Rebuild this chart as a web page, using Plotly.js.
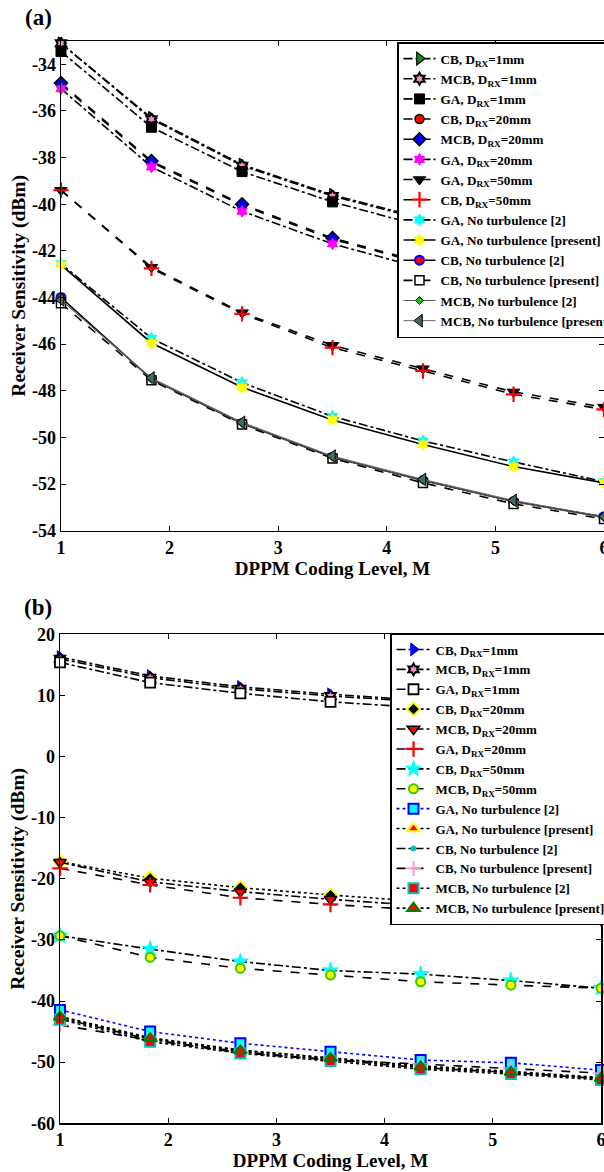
<!DOCTYPE html>
<html>
<head>
<meta charset="utf-8">
<script src="https://cdn.plot.ly/plotly-3.0.1.min.js"></script>
<style>html,body{margin:0;padding:0;background:#fff;}#chart{width:604px;height:1172px;}</style>
</head>
<body>
<div id="chart"></div>
<script>
// ---------- data ----------
const xM = [1, 1.833, 2.667, 3.5, 4.333, 5.167, 6];
const xTicks = [1, 2, 3, 4, 5, 6];
const yTicksA = [-54, -52, -50, -48, -46, -44, -42, -40, -38, -36, -34];
const yTicksB = [-60, -50, -40, -30, -20, -10, 0, 10, 20];

// panel (a)
const a_CB_1mm   = [-33.1, -36.3, -38.3, -39.6, -40.6, -41.4, -42.1];
const a_MCB_1mm  = [-33.1, -36.35, -38.35, -39.65, -40.65, -41.45, -42.15];
const a_GA_1mm   = [-33.45, -36.7, -38.6, -39.9, -40.95, -41.7, -42.35];
const a_CB_20mm  = [-34.85, -38.2, -40.05, -41.5, -42.55, -43.4, -44.1];
const a_MCB_20mm = [-34.8, -38.15, -40.0, -41.45, -42.5, -43.35, -44.05];
const a_GA_20mm  = [-35.05, -38.4, -40.3, -41.7, -42.75, -43.6, -44.3];
const a_GA_50mm  = [-39.4, -42.7, -44.65, -46.05, -47.05, -48.05, -48.7];
const a_CB_50mm  = [-39.4, -42.75, -44.7, -46.15, -47.15, -48.15, -48.8];
const a_GA_NT2   = [-42.55, -45.75, -47.65, -49.1, -50.15, -51.05, -51.9];
const a_GA_NTp   = [-42.6, -45.95, -47.85, -49.25, -50.3, -51.25, -51.95];
const a_CB_NT2   = [-44.0, -47.5, -49.4, -50.85, -51.85, -52.75, -53.4];
const a_CB_NTp   = [-44.25, -47.55, -49.45, -50.9, -51.95, -52.85, -53.5];
const a_MCB_NT2  = [-44.1, -47.5, -49.4, -50.85, -51.85, -52.75, -53.45];
const a_MCB_NTp  = [-44.1, -47.45, -49.35, -50.8, -51.8, -52.7, -53.4];

// panel (b)
const b_CB_1mm   = [16.3, 13.2, 11.4, 10.2, 9.2, 8.2, 7.0];
const b_MCB_1mm  = [16.0, 12.9, 11.1, 9.9, 9.0, 8.0, 6.9];
const b_GA_1mm   = [15.4, 12.1, 10.35, 8.95, 8.0, 7.1, 6.2];
const b_CB_20mm  = [-17.2, -19.9, -21.45, -22.65, -23.7, -24.6, -25.5];
const b_MCB_20mm = [-17.3, -20.5, -22.1, -23.35, -24.4, -25.3, -26.1];
const b_GA_20mm  = [-18.3, -21.0, -23.1, -24.2, -25.1, -25.9, -26.5];
const b_CB_50mm  = [-29.3, -31.5, -33.55, -35.0, -35.6, -36.65, -37.9];
const b_MCB_50mm = [-29.3, -32.85, -34.65, -35.75, -36.85, -37.4, -37.9];
const b_GA_NT2   = [-41.45, -45.0, -46.9, -48.3, -49.65, -50.1, -51.3];
const b_GA_NTp   = [-42.5, -46.0, -48.0, -49.3, -50.6, -51.5, -52.5];
const b_CB_NT2   = [-42.8, -46.3, -48.3, -49.6, -50.9, -51.7, -52.7];
const b_CB_NTp   = [-43.9, -46.4, -48.45, -49.65, -50.3, -51.0, -51.8];
const b_MCB_NT2  = [-43.0, -46.65, -48.55, -49.8, -51.15, -51.95, -52.9];
const b_MCB_NTp  = [-42.6, -46.1, -48.1, -49.35, -50.75, -51.65, -52.65];

// ---------- helpers ----------
const FONT = 'Liberation Serif, Times New Roman, serif';
function tr(name, y, panel, dash, lineColor, lineWidth, sym, fill, edge, edgeW, size) {
  const isA = panel === 'a';
  return {
    type: 'scatter', mode: 'lines+markers', name: name,
    x: xM, y: y,
    xaxis: isA ? 'x' : 'x2', yaxis: isA ? 'y' : 'y2',
    legend: isA ? 'legend' : 'legend2',
    cliponaxis: false,
    line: {color: lineColor, width: lineWidth, dash: dash},
    marker: {symbol: sym, color: fill, size: size, line: {color: edge, width: edgeW}}
  };
}
const D = (s) => 'D<sub>RX</sub>=' + s;

const traces = [
  tr('CB, ' + D('1mm'), a_CB_1mm, 'a', 'dashdot', '#000', 1.6, 'triangle-right', '#138a13', '#000', 1.2, 11),
  tr('MCB, ' + D('1mm'), a_MCB_1mm, 'a', 'dashdot', '#000', 1.6, 'hexagram', '#ff8ad0', '#000', 2, 9),
  tr('GA, ' + D('1mm'), a_GA_1mm, 'a', 'dashdot', '#000', 1.6, 'square', '#000', '#000', 1, 10),
  tr('CB, ' + D('20mm'), a_CB_20mm, 'a', 'dash', '#000', 1.6, 'circle', '#ff0000', '#000', 1.5, 9),
  tr('MCB, ' + D('20mm'), a_MCB_20mm, 'a', 'dash', '#000', 1.6, 'diamond', '#0000ff', '#000', 1.5, 10),
  tr('GA, ' + D('20mm'), a_GA_20mm, 'a', 'dashdot', '#000', 1.6, 'hexagram', '#ff00ff', '#ff00ff', 1, 9),
  tr('GA, ' + D('50mm'), a_GA_50mm, 'a', 'dash', '#000', 1.6, 'triangle-down', '#000', '#000', 1, 11),
  tr('CB, ' + D('50mm'), a_CB_50mm, 'a', 'dash', '#000', 1.6, 'cross-thin', '#ff0000', '#ff0000', 2.2, 11),
  tr('GA, No turbulence [2]', a_GA_NT2, 'a', 'dashdot', '#000', 1.6, 'hexagram', '#00ffff', '#00ffff', 1, 9),
  tr('GA, No turbulence [present]', a_GA_NTp, 'a', 'solid', '#000', 1.6, 'hexagram', '#ffff00', '#ffff00', 1, 9),
  tr('CB, No turbulence [2]', a_CB_NT2, 'a', 'solid', '#000', 1.6, 'circle', '#ff0000', '#0000ff', 2, 9),
  tr('CB, No turbulence [present]', a_CB_NTp, 'a', 'dash', '#000', 1.6, 'square', '#ffffff', '#000', 1.5, 9),
  tr('MCB, No turbulence [2]', a_MCB_NT2, 'a', 'solid', '#555', 1, 'diamond', '#00cc00', '#000', 1, 6),
  tr('MCB, No turbulence [present]', a_MCB_NTp, 'a', 'solid', '#666', 1, 'triangle-left', '#3d6e58', '#000', 1, 11),

  tr('CB, ' + D('1mm'), b_CB_1mm, 'b', 'dashdot', '#000', 1.6, 'triangle-right', '#0000ff', '#0000ff', 1, 11),
  tr('MCB, ' + D('1mm'), b_MCB_1mm, 'b', 'dashdot', '#000', 1.6, 'hexagram', '#ff8ad0', '#000', 2, 9),
  tr('GA, ' + D('1mm'), b_GA_1mm, 'b', 'dashdot', '#000', 1.6, 'square', '#ffffff', '#000', 1.8, 10),
  tr('CB, ' + D('20mm'), b_CB_20mm, 'b', 'dot', '#000', 1.6, 'diamond', '#000', '#ffff00', 2, 10),
  tr('MCB, ' + D('20mm'), b_MCB_20mm, 'b', 'dashdot', '#000', 1.6, 'triangle-down', '#ff0000', '#000', 1.5, 11),
  tr('GA, ' + D('20mm'), b_GA_20mm, 'b', 'dash', '#000', 1.6, 'cross-thin', '#ff0000', '#ff0000', 2.2, 11),
  tr('CB, ' + D('50mm'), b_CB_50mm, 'b', 'dashdot', '#000', 1.6, 'star', '#00ffff', '#00ffff', 1, 12),
  tr('MCB, ' + D('50mm'), b_MCB_50mm, 'b', 'dash', '#000', 1.6, 'circle', '#ffff00', '#33cc00', 2, 9),
  tr('GA, No turbulence [2]', b_GA_NT2, 'b', 'dot', '#0000ff', 1.6, 'square', '#00ffff', '#0000ff', 2, 10),
  tr('GA, No turbulence [present]', b_GA_NTp, 'b', 'dot', '#000', 1.6, 'triangle-up', '#ff0000', '#ffff00', 2, 11),
  tr('CB, No turbulence [2]', b_CB_NT2, 'b', 'dashdot', '#000', 1.6, 'circle', '#00bfbf', '#00bfbf', 1, 5),
  tr('CB, No turbulence [present]', b_CB_NTp, 'b', 'dash', '#000', 1.6, 'cross-thin', '#ff99cc', '#ff99cc', 2, 11),
  tr('MCB, No turbulence [2]', b_MCB_NT2, 'b', 'dot', '#000', 1.6, 'square', '#ff0000', '#00c0c0', 2, 10),
  tr('MCB, No turbulence [present]', b_MCB_NTp, 'b', 'dot', '#000', 1.6, 'triangle-up', '#ff0000', '#008000', 2, 11)
];

// ---------- layout ----------
const W = 604, H = 1172;
const px = (v) => v / W, py = (v) => 1 - v / H;
const tickFont = {family: FONT, size: 18, color: '#000', weight: 'bold'};
const xTitleFont = {family: FONT, size: 19, color: '#000', weight: 'bold'};
const yTitleFont = {family: FONT, size: 19.5, color: '#000', weight: 'bold'};
function xax(domain, anchor) {
  return {domain: domain, anchor: anchor, range: [1, 6], tickvals: xTicks, ticktext: xTicks.map(String),
    showline: true, linecolor: '#000', linewidth: 1.5, mirror: 'ticks', ticks: 'inside', ticklen: 5,
    tickcolor: '#000', showgrid: false, zeroline: false, tickfont: tickFont, ticklabeloverflow: 'allow',
    title: {text: 'DPPM Coding Level, M', font: xTitleFont, standoff: 3}, automargin: false};
}
function yax(domain, anchor, range, vals) {
  return {domain: domain, anchor: anchor, range: range, tickvals: vals, ticktext: vals.map(String),
    showline: true, linecolor: '#000', linewidth: 1.5, mirror: 'ticks', ticks: 'inside', ticklen: 5,
    tickcolor: '#000', showgrid: false, zeroline: false, tickfont: tickFont, ticklabeloverflow: 'allow',
    title: {text: 'Receiver Sensitivity (dBm)', font: yTitleFont, standoff: 1}, automargin: false};
}
const legFontA = {family: FONT, size: 13.2, color: '#000', weight: 'bold'};
const legFontB = {family: FONT, size: 13, color: '#000', weight: 'bold'};
const layout = {
  width: W, height: H,
  margin: {l: 0, r: 0, t: 0, b: 0, pad: 0, autoexpand: false},
  paper_bgcolor: '#fff', plot_bgcolor: '#fff',
  font: {family: FONT, color: '#000', weight: 'bold'},
  showlegend: true,
  xaxis: xax([px(61), px(604)], 'y'),
  yaxis: yax([py(530.7), py(41)], 'x', [-54, -33], yTicksA),
  xaxis2: xax([px(60), px(601)], 'y2'),
  yaxis2: yax([py(1123.3), py(634.3)], 'x2', [-60, 20], yTicksB),
  legend: {x: px(397), y: py(42), xanchor: 'left', yanchor: 'top', bgcolor: '#fff',
    bordercolor: '#000', borderwidth: 1.5, font: legFontA, tracegroupgap: 0, itemwidth: 32},
  legend2: {x: px(390), y: py(633), xanchor: 'left', yanchor: 'top', bgcolor: '#fff',
    bordercolor: '#000', borderwidth: 1.5, font: legFontB, tracegroupgap: 0, itemwidth: 34},
  annotations: [
    {text: '(a)', x: px(38), y: py(17), xref: 'paper', yref: 'paper', xanchor: 'center', yanchor: 'middle',
     showarrow: false, font: {family: FONT, size: 23, color: '#000', weight: 'bold'}},
    {text: '(b)', x: px(38), y: py(607), xref: 'paper', yref: 'paper', xanchor: 'center', yanchor: 'middle',
     showarrow: false, font: {family: FONT, size: 23, color: '#000', weight: 'bold'}}
  ]
};
Plotly.newPlot('chart', traces, layout, {staticPlot: true, displayModeBar: false});
</script>
</body>
</html>
